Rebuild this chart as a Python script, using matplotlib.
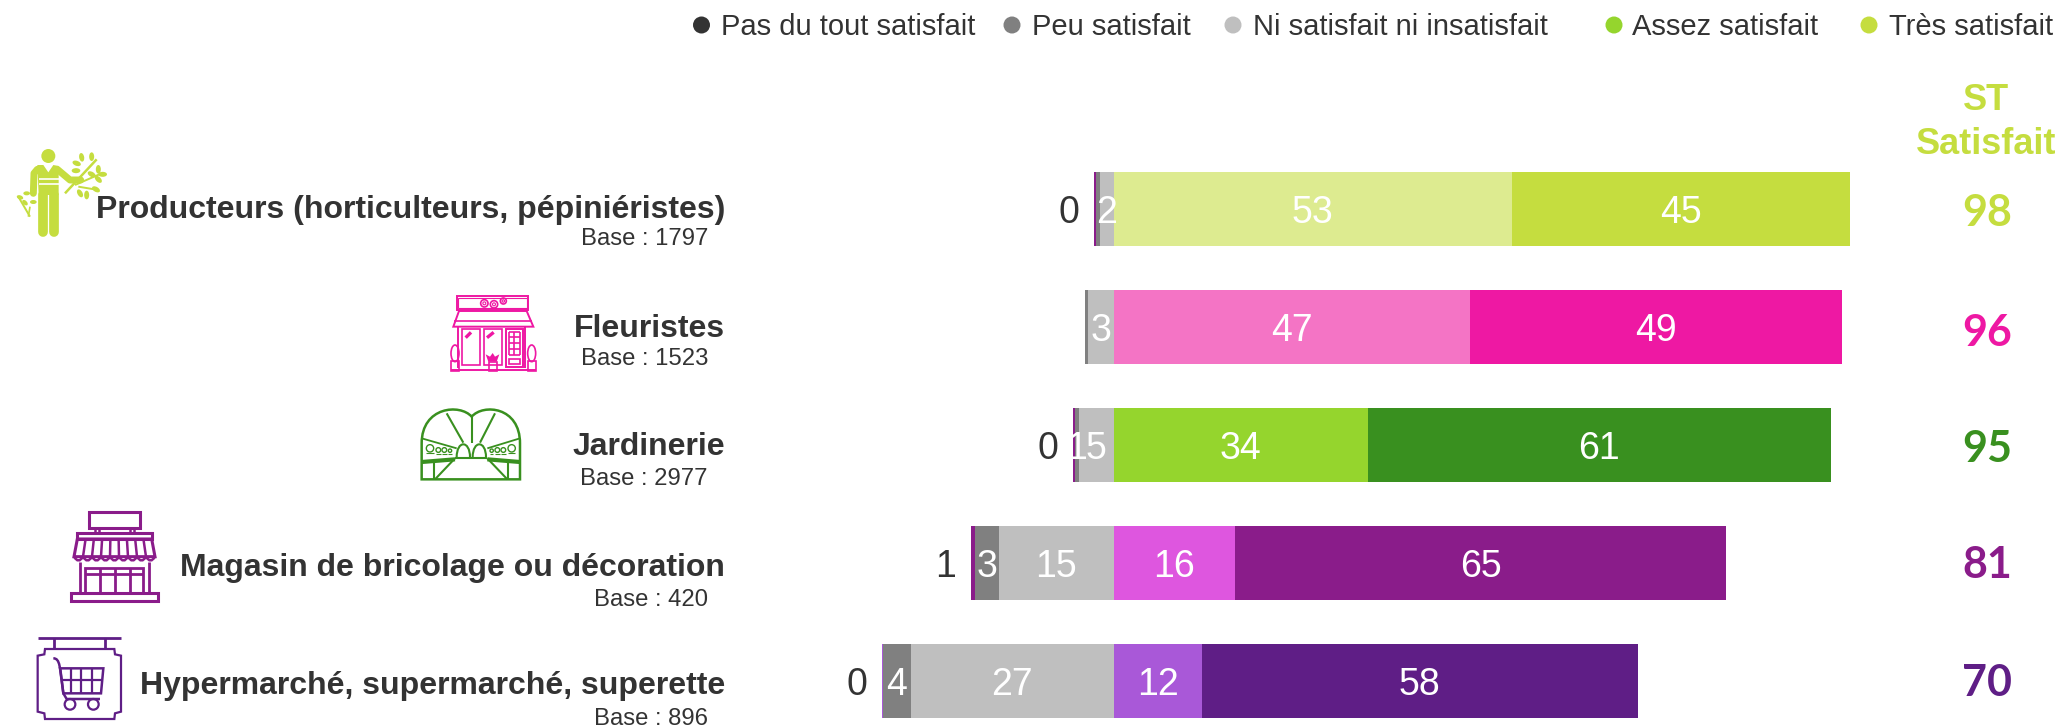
import numpy as np
import matplotlib
matplotlib.use("Agg")
import matplotlib.pyplot as plt
from matplotlib.patches import Circle, Ellipse, PathPatch, Polygon, Rectangle
from matplotlib.path import Path

plt.rcParams['font.family'] = ['Liberation Sans', 'DejaVu Sans']

categories = ["Producteurs (horticulteurs, pépiniéristes)", "Fleuristes", "Jardinerie",
              "Magasin de bricolage ou décoration", "Hypermarché, supermarché, superette"]
bases = ["Base : 1797", "Base : 1523", "Base : 2977", "Base : 420", "Base : 896"]
legend_names = ["Pas du tout satisfait", "Peu satisfait", "Ni satisfait ni insatisfait",
                "Assez satisfait", "Très satisfait"]

# bar lengths
pas_du_tout = [0.27, 0, 0.27, 0.6, 0.1]
peu = [0.53, 0.35, 0.53, 3.2, 3.7]
ni = [1.8, 3.4, 4.6, 15.2, 27.0]
assez = [53.0, 47.5, 33.9, 16.2, 11.8]
tres = [45.1, 49.5, 61.6, 65.4, 58.0]

# printed labels
pas_du_tout_lab = ["0", "", "0", "1", "0"]
peu_lab = ["", "", "1", "3", "4"]
ni_lab = ["2", "3", "5", "15", "27"]
assez_lab = ["53", "47", "34", "16", "12"]
tres_lab = ["45", "49", "61", "65", "58"]
st_satisfait = ["98", "96", "95", "81", "70"]

col_assez = ["#DDEB90", "#F474C5", "#95D52D", "#DE56DF", "#A958D8"]
col_tres = ["#C5DD3F", "#EE18A3", "#39901F", "#8A1C8A", "#5F1E86"]
col_pas = ["#8A1C8A", "#8A1C8A", "#8A1C8A", "#8A1C8A", "#A958D8"]
col_legend = ["#333333", "#808080", "#BFBFBF", "#95D52D", "#C5DD3F"]
GREY = "#808080"
LIGHT = "#BFBFBF"
DARK = "#333333"

W, H = 2064, 727
fig = plt.figure(figsize=(W / 100, H / 100), dpi=100)

# bars axes: zero at x=1113.5 px, 7.51 px per point, rows 117.9 px apart
ax = fig.add_axes([0, 0, 1, 1])
ax.set_xlim(-1113.5 / 7.51, (W - 1113.5) / 7.51)
ax.set_ylim((H - 209) / 117.9, -209 / 117.9)
ax.axis('off')

# pixel axes for texts and icons
px = fig.add_axes([0, 0, 1, 1])
px.set_xlim(0, W)
px.set_ylim(H, 0)
px.axis('off')
px.patch.set_alpha(0)

rows = np.arange(len(categories))
h = 0.628
pas_arr, peu_arr, ni_arr = np.array(pas_du_tout), np.array(peu), np.array(ni)
assez_arr, tres_arr = np.array(assez), np.array(tres)

left_ni = -ni_arr
left_peu = left_ni - peu_arr
left_pas = left_peu - pas_arr

ax.barh(rows, pas_arr, left=left_pas, height=h, color=col_pas)
ax.barh(rows, peu_arr, left=left_peu, height=h, color=GREY)
ax.barh(rows, ni_arr, left=left_ni, height=h, color=LIGHT)
ax.barh(rows, assez_arr, left=0, height=h, color=col_assez)
ax.barh(rows, tres_arr, left=assez_arr, height=h, color=col_tres)

FS = 27
for i in rows:
    ax.text(left_ni[i] + ni_arr[i] / 2, i, ni_lab[i], color='white', fontsize=FS, ha='center', va='center_baseline')
    if peu_lab[i]:
        ax.text(left_peu[i] + peu_arr[i] / 2, i, peu_lab[i], color='white', fontsize=FS, ha='center', va='center_baseline')
    if pas_du_tout_lab[i]:
        ax.text(left_pas[i] - 3.3, i, pas_du_tout_lab[i], color=DARK, fontsize=FS, ha='center', va='center_baseline')
    ax.text(assez_arr[i] / 2, i, assez_lab[i], color='white', fontsize=FS, ha='center', va='center_baseline')
    ax.text(assez_arr[i] + tres_arr[i] / 2, i, tres_lab[i], color='white', fontsize=FS, ha='center', va='center_baseline')

# row labels
name_y = [218, 337, 455, 576, 694]
base_y = [245, 365, 485, 606, 725]
st_y = [209, 329, 445, 562, 680]
for i in rows:
    px.text(725, name_y[i], categories[i], color=DARK, fontsize=23, fontweight='bold', ha='right', va='baseline')
    px.text(708, base_y[i], bases[i], color=DARK, fontsize=17.2, ha='right', va='baseline')
    px.text(1987, st_y[i], st_satisfait[i], color=col_tres[i], fontsize=31, fontweight='bold',
            family=['Lato', 'DejaVu Sans'], ha='center', va='center_baseline')

px.text(1986, 96, "ST", color="#C5DD3F", fontsize=26, fontweight='bold', ha='center', va='center_baseline')
px.text(1986, 141, "Satisfait", color="#C5DD3F", fontsize=26, fontweight='bold', ha='center', va='center_baseline')

# legend
leg_dot = [701.5, 1012, 1233, 1614, 1869]
leg_txt = [721, 1032, 1253, 1632, 1889]
for name, c, xd, xt in zip(legend_names, col_legend, leg_dot, leg_txt):
    px.add_patch(Circle((xd, 25), 8.5, color=c, lw=0))
    px.text(xt, 35, name, color=DARK, fontsize=21, ha='left', va='baseline')


# icon helpers, coords given in 3x crop units
def line(o, pts, c, lw=1.5, cap='butt'):
    xs = [o[0] + p[0] / 3 for p in pts]
    ys = [o[1] + p[1] / 3 for p in pts]
    px.plot(xs, ys, color=c, lw=lw, solid_capstyle=cap, solid_joinstyle='round')


def box(o, x0, y0, x1, y1, c, lw=1.5, fill='none'):
    px.add_patch(Rectangle((o[0] + x0 / 3, o[1] + y0 / 3), (x1 - x0) / 3, (y1 - y0) / 3,
                           fc=fill, ec=c, lw=lw))


def circ(o, x, y, r, c, lw=1.5, fill='none'):
    px.add_patch(Circle((o[0] + x / 3, o[1] + y / 3), r / 3, fc=fill, ec=c, lw=lw))


def oval(o, x, y, w, hh, c, ang=0, lw=1.5, fill='none'):
    px.add_patch(Ellipse((o[0] + x / 3, o[1] + y / 3), w / 3, hh / 3, angle=ang, fc=fill, ec=c, lw=lw))


def poly(o, pts, c, lw=1.5, fill='none'):
    px.add_patch(Polygon([(o[0] + p[0] / 3, o[1] + p[1] / 3) for p in pts], closed=True, fc=fill, ec=c, lw=lw))


def curve(o, pts, codes, c, lw=1.5):
    p = Path([(o[0] + q[0] / 3, o[1] + q[1] / 3) for q in pts], codes)
    px.add_patch(PathPatch(p, fc='none', ec=c, lw=lw))


# producteur
o, c = (10, 140), "#C5DD3F"
circ(o, 115, 48, 21, c, fill=c, lw=0)
poly(o, [(82, 75), (100, 75), (115, 97), (130, 75), (146, 78), (146, 165), (86, 165)], c, fill=c, lw=0)
line(o, [(82, 88), (72, 100), (70, 160)], c, lw=5, cap='round')
line(o, [(142, 88), (180, 120), (212, 120)], c, lw=5, cap='round')
line(o, [(87, 117), (146, 117)], 'white', lw=1.2)
line(o, [(87, 132), (146, 132)], 'white', lw=1.2)
line(o, [(98, 165), (98, 275)], c, lw=7, cap='round')
line(o, [(132, 165), (132, 275)], c, lw=7, cap='round')
line(o, [(165, 160), (260, 58)], c, lw=1.8)
line(o, [(195, 135), (275, 100)], c, lw=1.4)
line(o, [(205, 140), (265, 150)], c, lw=1.4)
line(o, [(25, 170), (60, 230)], c, lw=1.4)
line(o, [(60, 200), (55, 230)], c, lw=1.2)
for x, y, a in [(200, 70, 20), (215, 52, 80), (245, 50, 90), (198, 92, 0), (245, 103, 30), (265, 88, 90),
                (278, 103, 0), (265, 118, 45), (230, 165, 90), (210, 160, 60), (258, 148, 30)]:
    oval(o, x, y, 26, 15, c, ang=a, fill=c, lw=0)
for x, y, a in [(30, 172, 20), (50, 160, 0), (70, 186, 0), (45, 188, 45)]:
    oval(o, x, y, 20, 12, c, ang=a, fill=c, lw=0)

# fleuriste
o, c = (445, 285), "#EE18A3"
box(o, 35, 32, 250, 75, c, lw=1.4)
box(o, 40, 38, 245, 70, c, lw=0.8)
for x, y, r in [(118, 55, 11), (147, 58, 11), (175, 48, 9)]:
    circ(o, x, y, r, c, lw=1.2)
    circ(o, x, y, r / 2.5, c, lw=0.8)
poly(o, [(42, 78), (245, 78), (265, 125), (25, 125)], c, lw=1.4)
line(o, [(28, 108), (262, 108)], c, lw=1.2)
line(o, [(40, 125), (40, 250)], c, lw=1.4)
line(o, [(240, 125), (240, 250)], c, lw=1.4)
box(o, 52, 133, 105, 240, c, lw=1.2)
box(o, 118, 133, 172, 240, c, lw=1.2)
box(o, 182, 133, 235, 245, c, lw=1.4)
for x in [192, 208, 225]:
    line(o, [(x, 140), (x, 210)], c, lw=1.2)
for y in [140, 157, 175, 192, 210]:
    line(o, [(192, y), (225, y)], c, lw=1.2)
box(o, 192, 222, 225, 238, c, lw=1.2)
line(o, [(62, 158), (78, 142)], c, lw=2.4)
line(o, [(126, 158), (146, 142)], c, lw=2.4)
oval(o, 30, 205, 24, 50, c, lw=1.2)
oval(o, 260, 205, 24, 50, c, lw=1.2)
box(o, 18, 228, 42, 258, c, lw=1.2)
box(o, 248, 228, 272, 258, c, lw=1.2)
box(o, 132, 232, 155, 258, c, lw=1.2)
poly(o, [(122, 208), (135, 215), (143, 204), (150, 215), (163, 208), (155, 230), (130, 230)], c, fill=c, lw=0)
line(o, [(18, 256), (272, 256)], c, lw=1.4)

# jardinerie
o, c = (410, 400), "#39901F"
curve(o, [(35, 238), (35, 130), (35, 20), (150, 10), (185, 50), (220, 10), (330, 20), (330, 130), (330, 238), (35, 238)],
      [Path.MOVETO, Path.LINETO, Path.CURVE4, Path.CURVE4, Path.CURVE4, Path.CURVE4, Path.CURVE4, Path.CURVE4,
       Path.LINETO, Path.CLOSEPOLY], c, lw=1.8)
line(o, [(185, 50), (185, 130)], c, lw=1.5)
line(o, [(110, 40), (160, 128)], c, lw=1.5)
line(o, [(255, 40), (210, 128)], c, lw=1.5)
for x0, x1 in [(140, 180), (188, 228)]:
    curve(o, [(x0, 172), (x0, 120), (x1, 120), (x1, 172)],
          [Path.MOVETO, Path.CURVE4, Path.CURVE4, Path.CURVE4], c, lw=1.5)
line(o, [(135, 175), (232, 175)], c, lw=1.5)
line(o, [(35, 115), (140, 145)], c, lw=1.3)
line(o, [(330, 115), (232, 145)], c, lw=1.3)
line(o, [(35, 186), (135, 178)], c, lw=3)
line(o, [(232, 178), (330, 186)], c, lw=3)
line(o, [(135, 175), (75, 238)], c, lw=1.5)
line(o, [(232, 175), (292, 238)], c, lw=1.5)
line(o, [(72, 190), (72, 238)], c, lw=1.5)
line(o, [(294, 190), (294, 238)], c, lw=1.5)
for x, y, r in [(60, 145, 11), (85, 150, 7), (103, 150, 7), (120, 152, 5), (305, 145, 11), (280, 150, 7),
                (262, 150, 7), (245, 152, 5)]:
    circ(o, x, y, r, c, lw=1.0)
    line(o, [(x - r, y + r + 4), (x + r, y + r + 4)], c, lw=0.8)

# bricolage
o, c = (60, 505), "#8A1C8A"
box(o, 87, 22, 240, 70, c, lw=2.2)
box(o, 105, 70, 118, 85, c, lw=1.8)
box(o, 210, 70, 223, 85, c, lw=1.8)
box(o, 52, 85, 275, 102, c, lw=2.2)
poly(o, [(52, 102), (275, 102), (285, 155), (42, 155)], c, lw=2.2)
xs = np.linspace(42, 285, 10)
for x_low, x_top in zip(xs[1:-1], np.linspace(52, 275, 10)[1:-1]):
    line(o, [(x_top, 102), (x_low, 155)], c, lw=1.8)
for a, b in zip(xs[:-1], xs[1:]):
    m = (a + b) / 2
    curve(o, [(a, 155), (m, 178), (b, 155)], [Path.MOVETO, Path.CURVE3, Path.CURVE3], c, lw=1.8)
line(o, [(60, 170), (60, 265)], c, lw=2.0)
line(o, [(268, 170), (268, 265)], c, lw=2.0)
box(o, 75, 188, 250, 265, c, lw=2.0)
line(o, [(75, 208), (250, 208)], c, lw=2.0)
for x in [120, 165, 210]:
    line(o, [(x, 188), (x, 265)], c, lw=2.0)
box(o, 33, 265, 295, 288, c, lw=2.2)

# hypermarche
o, c = (25, 625), "#5F1E86"
line(o, [(38, 38), (288, 38)], c, lw=2.0)
line(o, [(87, 38), (87, 72)], c, lw=2.0)
line(o, [(240, 38), (240, 72)], c, lw=2.0)
poly(o, [(60, 72), (268, 72), (270, 88), (288, 92), (288, 260), (270, 265), (268, 282), (60, 282), (58, 265), (38, 260),
         (38, 92), (58, 88)], c, lw=1.6)
curve(o, [(85, 100), (105, 100), (105, 125), (115, 205)],
      [Path.MOVETO, Path.CURVE4, Path.CURVE4, Path.CURVE4], c, lw=1.8)
line(o, [(115, 205), (125, 222), (225, 222)], c, lw=1.8)
poly(o, [(105, 130), (235, 130), (228, 205), (115, 205)], c, lw=1.8)
for x in [138, 168, 200]:
    line(o, [(x, 130), (x, 205)], c, lw=1.6)
line(o, [(108, 165), (232, 165)], c, lw=1.6)
circ(o, 135, 238, 16, c, lw=1.6)
circ(o, 205, 238, 16, c, lw=1.6)

fig.savefig("out.png", dpi=100)
